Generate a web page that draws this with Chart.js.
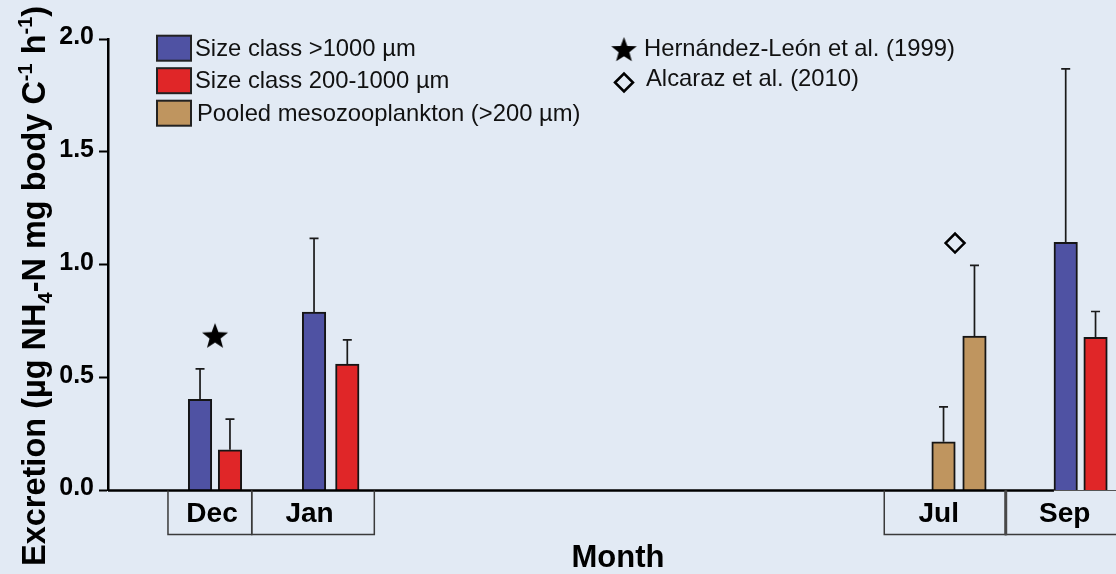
<!DOCTYPE html>
<html><head><meta charset="utf-8">
<script src="https://cdn.jsdelivr.net/npm/chart.js@4.4.1/dist/chart.umd.min.js"></script>
<style>html,body{margin:0;padding:0;background:#e2eaf4;}#wrap{width:1116px;height:574px;position:relative}</style>
</head><body><div id="wrap"><canvas id="c" width="1116" height="574"></canvas></div>
<script>
// ---- data ----
const months = ['Dec', 'Jan', 'Jul', 'Sep'];
const yTicks = [0, 0.5, 1.0, 1.5, 2.0];
const seriesLabels = ['Size class >1000 µm', 'Size class 200-1000 µm', 'Pooled mesozooplankton (>200 µm)'];
const largeMonths = ['Dec', 'Jan', 'Sep'];
const largeMean = [0.404, 0.790, 1.099];
const largeSD = [0.135, 0.327, 0.769];
const smallMonths = ['Dec', 'Jan', 'Sep'];
const smallMean = [0.180, 0.560, 0.679];
const smallSD = [0.136, 0.107, 0.114];
const pooledMonths = ['Jul', 'Jul'];
const pooledMean = [0.216, 0.684];
const pooledSD = [0.154, 0.313];
const litLabels = ['Hernández-León et al. (1999)', 'Alcaraz et al. (2010)'];
const litMonths = ['Dec', 'Jul'];
const litValues = [0.681, 1.096];

// ---- layout along a schematic 0-100 time axis ----
const largeX = [9.13, 20.44, 95.01];
const smallX = [12.10, 23.74, 97.97];
const pooledX = [82.89, 85.96];
const litX = [10.62, 84.03];
const monthBox = [[5.95, 14.26], [14.26, 26.42], [77.01, 89.06], [89.06, 101.4]];
const monthLabelX = [10.32, 19.99, 82.41, 94.92];

const FONT = '"Liberation Sans", Arial, Helvetica, sans-serif';
const BG = '#e2eaf4';

function makeStar(R) {
  const s = Math.ceil(R * 2) + 2;
  const cv = document.createElement('canvas');
  cv.width = s; cv.height = s;
  const g = cv.getContext('2d');
  const cx = s / 2, cy = s / 2, r = R * 0.42;
  g.beginPath();
  for (let i = 0; i < 10; i++) {
    const rad = i % 2 === 0 ? R : r;
    const a = -Math.PI / 2 + i * Math.PI / 5;
    const px = cx + rad * Math.cos(a), py = cy + rad * Math.sin(a);
    if (i === 0) g.moveTo(px, py); else g.lineTo(px, py);
  }
  g.closePath();
  g.fillStyle = '#000';
  g.fill();
  return cv;
}
const starImg = makeStar(13.7);
const starLegend = makeStar(13.4);

function barSet(label, xs, ys, sds, color) {
  return {
    type: 'bar', label, data: xs.map((x, i) => ({ x, y: ys[i] })), sd: sds,
    backgroundColor: color, borderColor: '#151515', borderWidth: 2,
    borderSkipped: 'start', barThickness: 23.5, grouped: false
  };
}

const customDraw = {
  id: 'customDraw',
  beforeDraw(chart) {
    const c = chart.ctx;
    c.save(); c.fillStyle = BG; c.fillRect(0, 0, chart.width, chart.height); c.restore();
  },
  afterDatasetsDraw(chart) {
    const c = chart.ctx, ys = chart.scales.y, ca = chart.chartArea;
    c.save();
    // error bars (upper only)
    chart.data.datasets.forEach((ds, di) => {
      if (!ds.sd) return;
      const meta = chart.getDatasetMeta(di);
      meta.data.forEach((el, i) => {
        const top = ys.getPixelForValue(ds.data[i].y + ds.sd[i]);
        c.strokeStyle = '#1a1a1a'; c.lineWidth = 1.7;
        c.beginPath();
        c.moveTo(el.x, el.y); c.lineTo(el.x, top);
        c.moveTo(el.x - 4.5, top); c.lineTo(el.x + 4.5, top);
        c.stroke();
      });
    });
    // baseline
    const y0 = ys.getPixelForValue(0);
    const sepEl = chart.getDatasetMeta(0).data[2];
    const thickEnd = sepEl.x - sepEl.width / 2;
    c.strokeStyle = '#000'; c.lineWidth = 2.5;
    c.beginPath(); c.moveTo(ca.left, y0); c.lineTo(thickEnd, y0); c.stroke();
    c.strokeStyle = '#555'; c.lineWidth = 1.2;
    c.beginPath(); c.moveTo(thickEnd, y0); c.lineTo(ca.right, y0); c.stroke();
    c.restore();
  },
  afterDraw(chart) {
    const c = chart.ctx, xs = chart.scales.x, ys = chart.scales.y;
    const y0 = ys.getPixelForValue(0);
    const boxBottom = 534.5;
    c.save();
    // month boxes
    c.strokeStyle = '#3a3a3a'; c.lineWidth = 1.5;
    monthBox.forEach(([a, b]) => {
      const xa = xs.getPixelForValue(a), xb = xs.getPixelForValue(b);
      c.beginPath();
      c.moveTo(xa, y0); c.lineTo(xa, boxBottom); c.lineTo(xb, boxBottom); c.lineTo(xb, y0);
      c.stroke();
    });
    // axis break between Jul and Sep
    const xb = xs.getPixelForValue(monthBox[3][0]);
    c.strokeStyle = '#484848'; c.lineWidth = 3;
    c.beginPath(); c.moveTo(xb, y0); c.lineTo(xb, boxBottom + 0.75); c.stroke();
    // month labels
    c.fillStyle = '#000';
    c.font = 'bold 28px ' + FONT;
    c.textAlign = 'center'; c.textBaseline = 'alphabetic';
    months.forEach((m, i) => c.fillText(m, xs.getPixelForValue(monthLabelX[i]), 521.5));
    // x title
    c.font = 'bold 31px ' + FONT;
    c.fillText('Month', 618, 567);
    // y title (rotated, with sub/superscripts)
    c.save();
    c.translate(45, 566); c.rotate(-Math.PI / 2);
    c.textAlign = 'left';
    const parts = [
      ['Excretion (µg NH', 32.5, 0], ['4', 20, 7], ['-N mg body C', 32.5, 0],
      ['-1', 20, -13], [' h', 32.5, 0], ['-1', 20, -13], [')', 32.5, 0]
    ];
    let px = 0;
    parts.forEach(([t, sz, dy]) => {
      c.font = 'bold ' + sz + 'px ' + FONT;
      c.fillText(t, px, dy);
      px += c.measureText(t).width;
    });
    c.restore();
    // legend (series)
    const cols = chart.data.datasets.slice(0, 3).map(d => d.backgroundColor);
    const rowsTop = [35.7, 68.2, 100.7];
    const textX = [195, 195, 197];
    const baseY = [55.7, 88.2, 121];
    c.font = '23.8px ' + FONT; c.textAlign = 'left';
    seriesLabels.forEach((lab, i) => {
      c.fillStyle = cols[i];
      c.fillRect(157, rowsTop[i], 34, 25);
      c.strokeStyle = '#222'; c.lineWidth = 2;
      c.strokeRect(157, rowsTop[i], 34, 25);
      c.fillStyle = '#111';
      c.fillText(lab, textX[i], baseY[i]);
    });
    // legend (literature)
    c.drawImage(starLegend, 624 - starLegend.width / 2, 50.5 - starLegend.height / 2);
    c.fillText(litLabels[0], 644, 56);
    c.strokeStyle = '#000'; c.lineWidth = 2.5;
    c.beginPath();
    c.moveTo(624 - 9, 82.5); c.lineTo(624, 82.5 - 9); c.lineTo(624 + 9, 82.5); c.lineTo(624, 82.5 + 9);
    c.closePath(); c.stroke();
    c.fillText(litLabels[1], 646, 85.5);
    c.restore();
  }
};

new Chart(document.getElementById('c'), {
  data: {
    datasets: [
      barSet(seriesLabels[0], largeX, largeMean, largeSD, '#4f52a3'),
      barSet(seriesLabels[1], smallX, smallMean, smallSD, '#e02628'),
      barSet(seriesLabels[2], pooledX, pooledMean, pooledSD, '#bf955f'),
      { type: 'scatter', label: litLabels[0], data: [{ x: litX[0], y: litValues[0] }], pointStyle: starImg, pointRadius: 13 },
      { type: 'scatter', label: litLabels[1], data: [{ x: litX[1], y: litValues[1] }], pointStyle: 'rectRot', pointRadius: 9.5, borderColor: '#000', borderWidth: 2.5, backgroundColor: 'rgba(0,0,0,0)' }
    ]
  },
  options: {
    responsive: false, animation: false, devicePixelRatio: 1,
    layout: { autoPadding: false, padding: { top: 39, bottom: 83.5, left: 0, right: 0 } },
    plugins: { legend: { display: false }, tooltip: { enabled: false } },
    scales: {
      x: { type: 'linear', min: 0, max: 100, display: false, offset: false },
      y: {
        min: 0, max: 2,
        afterFit: s => { s.width = 108; },
        afterBuildTicks: s => { s.ticks = yTicks.map(v => ({ value: v })); },
        ticks: { callback: v => Number(v).toFixed(1), color: '#000', padding: 5, labelOffset: -2,
                 font: { family: FONT, size: 25, weight: 'bold' } },
        grid: { drawOnChartArea: false, drawTicks: true, tickLength: 9, tickWidth: 2, tickColor: '#000' },
        border: { display: true, color: '#000', width: 2.5 }
      }
    }
  },
  plugins: [customDraw]
});
</script>
</body></html>
